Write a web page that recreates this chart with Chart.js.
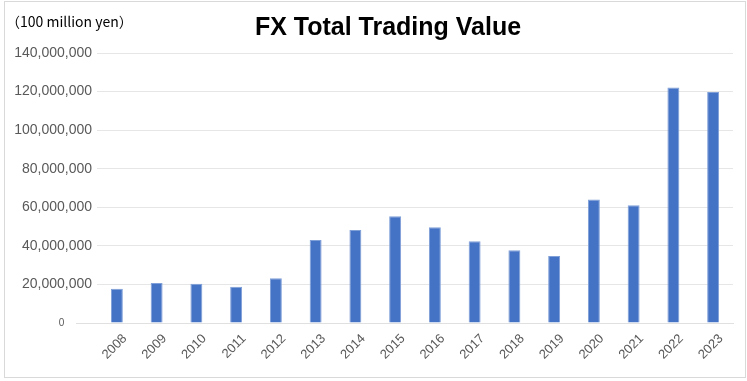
<!DOCTYPE html>
<html>
<head>
<meta charset="utf-8">
<script src="https://cdn.jsdelivr.net/npm/chart.js@4.4.1/dist/chart.umd.min.js"></script>
<style>
  html, body { margin: 0; padding: 0; background: #fff; }
  #wrap { width: 747px; height: 381px; position: relative; }
</style>
</head>
<body>
<div id="wrap"><canvas id="mycanvas" width="747" height="381"></canvas></div>
<script>
var years = ["2008", "2009", "2010", "2011", "2012", "2013", "2014", "2015",
             "2016", "2017", "2018", "2019", "2020", "2021", "2022", "2023"];
var tradingValue = [17700000, 20800000, 20300000, 18800000, 23200000, 43000000, 48200000, 55400000,
                    49600000, 42400000, 37700000, 34800000, 64100000, 61100000, 122100000, 119800000];
var yTicks = [0, 20000000, 40000000, 60000000, 80000000, 100000000, 120000000, 140000000];
var chartTitle = "FX Total Trading Value";
var unitLabel = "\uFF08100 million yen\uFF09";

// frame + title + unit text drawn on the canvas
var decor = {
  id: "decor",
  beforeDraw: function(chart) {
    var c = chart.ctx;
    c.save();
    c.strokeStyle = "#d9d9d9";
    c.lineWidth = 1;
    c.strokeRect(4.5, 1.5, 741, 376);
    // x axis line runs a bit left of the plot like the original
    c.strokeStyle = "#e0e0e0";
    c.beginPath();
    c.moveTo(76, 323.5);
    c.lineTo(chart.chartArea.left, 323.5);
    c.stroke();
    c.restore();
  },
  afterDraw: function(chart) {
    var c = chart.ctx;
    c.save();
    c.fillStyle = "#000";
    c.textBaseline = "alphabetic";
    c.textAlign = "center";
    c.font = "bold 25px 'Liberation Sans', sans-serif";
    c.fillText(chartTitle, 388, 35);
    c.textAlign = "left";
    c.textBaseline = "middle";
    c.font = "14px 'Noto Sans CJK JP', 'Noto Sans', sans-serif";
    c.fillText(unitLabel, 6, 22);
    c.restore();
  }
};

var ctx = document.getElementById("mycanvas");
var chart = new Chart(ctx, {
  type: "bar",
  data: {
    labels: years,
    datasets: [{
      label: "FX Total Trading Value",
      data: tradingValue,
      backgroundColor: "#4472c4",
      borderColor: "#7f9fd8",
      borderWidth: { left: 1, right: 1, top: 1, bottom: 0 },
      borderSkipped: false,
      barPercentage: 0.3,
      categoryPercentage: 1
    }]
  },
  options: {
    responsive: false,
    animation: false,
    layout: { padding: { top: 53, right: 14, bottom: 0, left: 0 } },
    plugins: {
      legend: { display: false },
      title: { display: false },
      tooltip: { enabled: false }
    },
    scales: {
      x: {
        grid: { display: false, drawTicks: false },
        border: { color: "#e0e0e0" },
        ticks: {
          color: "#595959",
          font: { family: "'Liberation Sans', sans-serif", size: 13 },
          minRotation: 45,
          maxRotation: 45,
          padding: 8,
          labelOffset: 8
        },
        afterFit: function(scale) { scale.height = 58; }
      },
      y: {
        min: 0,
        max: 140000000,
        grid: { color: "#e6e6e6", drawTicks: false },
        border: { display: false },
        afterBuildTicks: function(scale) {
          scale.ticks = yTicks.map(function(v) { return { value: v }; });
        },
        ticks: {
          color: "#595959",
          padding: 5,
          font: function(context) {
            if (context.tick && context.tick.value === 0) {
              return { family: "'Liberation Sans', sans-serif", size: 10 };
            }
            return { family: "'Liberation Sans', sans-serif", size: 14 };
          },
          callback: function(value) {
            if (value === 0) return "0          ";
            return value.toLocaleString("en-US");
          }
        },
        afterFit: function(scale) { scale.width = 97; }
      }
    }
  },
  plugins: [decor]
});
</script>
</body>
</html>
